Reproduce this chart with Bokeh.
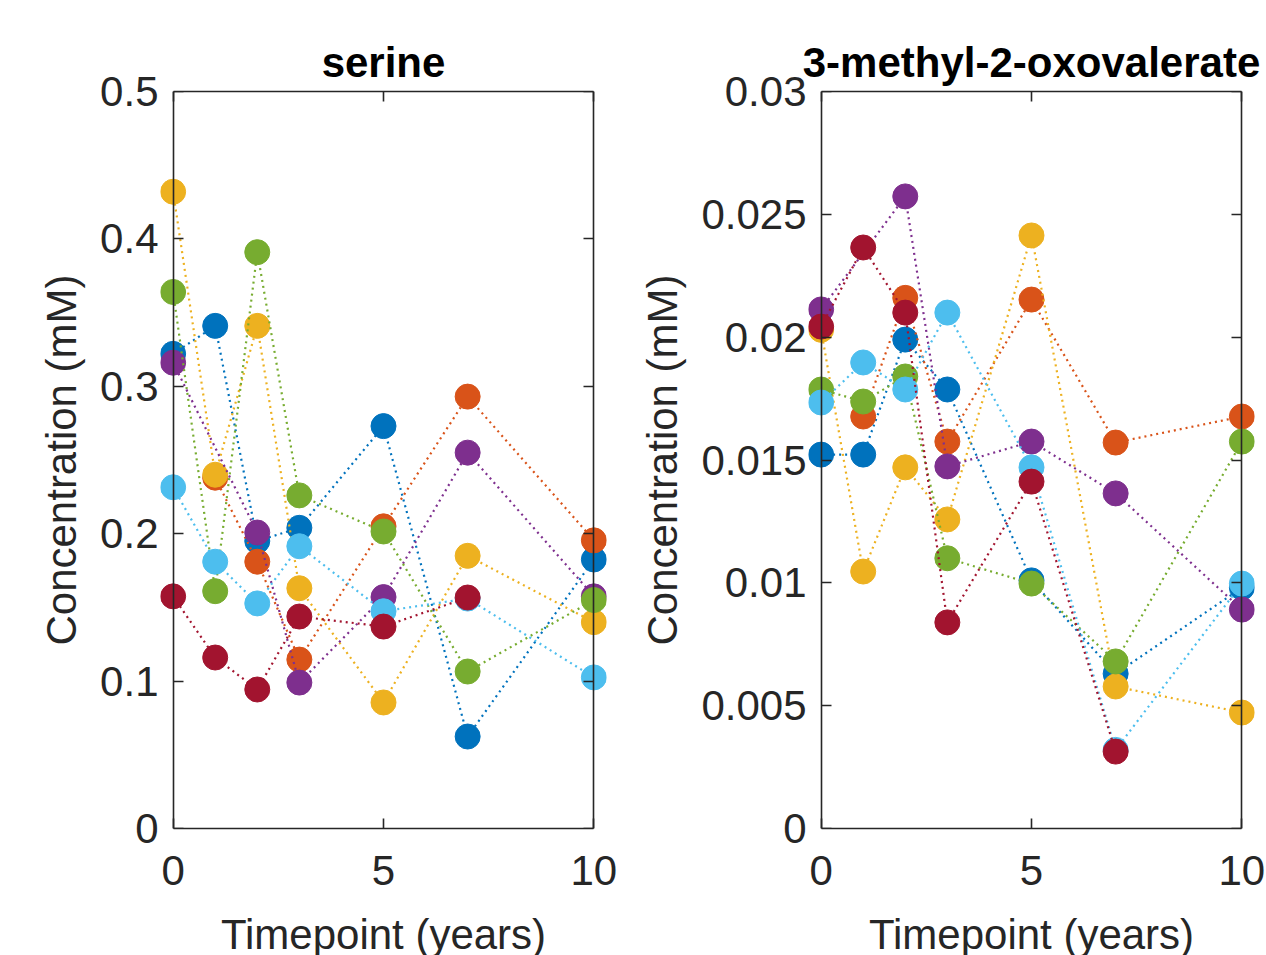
import math
from bokeh.plotting import figure
from bokeh.layouts import row
from bokeh.models import (LinearAxis, FixedTicker, CustomJSTickFormatter, Range1d,
                          GlobalInlineStyleSheet, ColumnDataSource)
from bokeh.embed import file_html
from bokeh.resources import INLINE

nan = float("nan")

# ---------------- data ----------------
timepoints = [0, 1, 2, 3, 5, 7, 10]
series_colors = ["#0072BD", "#D95319", "#EDB120", "#7E2F8E", "#77AC30", "#4DBEEE", "#A2142F"]

serine_1 = [0.322, 0.341, 0.195, 0.204, 0.273, 0.0624, 0.1825]
serine_2 = [nan, 0.238, 0.181, 0.1146, 0.205, 0.293, 0.1955]
serine_3 = [0.432, 0.240, 0.341, 0.163, 0.0855, 0.185, 0.140]
serine_4 = [0.316, nan, 0.2008, 0.099, 0.157, 0.255, 0.1575]
serine_5 = [0.364, 0.161, 0.391, 0.226, 0.2015, 0.1065, 0.155]
serine_6 = [0.2315, 0.181, 0.1527, 0.1915, 0.1474, 0.156, 0.1025]
serine_7 = [0.1575, 0.116, 0.0943, 0.1438, 0.137, 0.1567, nan]

mov_1 = [0.01522, 0.01522, 0.0199, 0.01787, 0.0101, 0.0063, 0.0098]
mov_2 = [nan, 0.01677, 0.0216, 0.01575, 0.02153, 0.01571, 0.01677]
mov_3 = [0.0203, 0.01046, 0.0147, 0.01258, 0.02414, 0.00578, 0.00472]
mov_4 = [0.02113, nan, 0.02573, 0.01474, 0.01575, 0.01364, 0.00891]
mov_5 = [0.01787, 0.01738, 0.0184, 0.0110, 0.00997, 0.0068, 0.01575]
mov_6 = [0.01734, 0.01897, 0.01787, 0.0210, 0.0147, 0.0032, 0.00997]
mov_7 = [0.02043, 0.02365, 0.0210, 0.00839, 0.01412, 0.00313, nan]

x_ticks = [0, 5, 10]
serine_ticks = [0, 0.1, 0.2, 0.3, 0.4, 0.5]
mov_ticks = [0, 0.005, 0.01, 0.015, 0.02, 0.025, 0.03]

title_serine = "serine"
title_mov = "3-methyl-2-oxovalerate"
x_label = "Timepoint (years)"
y_label = "Concentration (mM)"

# ---------------- styling ----------------
FONT = "Liberation Sans"
FS = "42px"
AX_COL = "#262626"


def base_style(ax):
    ax.axis_line_color = AX_COL
    ax.axis_line_width = 1.6
    ax.major_tick_line_color = AX_COL
    ax.major_tick_line_width = 1.6
    ax.major_tick_in = 10
    ax.major_tick_out = 0
    ax.minor_tick_line_color = None
    ax.major_label_text_font = FONT
    ax.major_label_text_font_size = FS
    ax.major_label_text_color = AX_COL
    ax.axis_label_text_font = FONT
    ax.axis_label_text_font_size = FS
    ax.axis_label_text_font_style = "normal"
    ax.axis_label_text_color = AX_COL


def blank_labels(ax):
    ax.formatter = CustomJSTickFormatter(code="return '';")
    ax.major_label_standoff = 0


def make_panel(title, data, yticks, ymax, border_left, border_right):
    p = figure(frame_width=446, frame_height=737,
               x_range=Range1d(-0.3, 10.3), y_range=Range1d(0, ymax),
               output_backend="svg", toolbar_location=None,
               x_axis_location=None, y_axis_location=None,
               min_border_left=border_left, min_border_right=border_right,
               min_border_top=91, min_border_bottom=140,
               title=title)
    p.grid.visible = False
    p.outline_line_color = None
    p.background_fill_color = "white"
    p.border_fill_color = "white"
    p.title.text_font = FONT
    p.title.text_font_size = FS
    p.title.text_font_style = "bold"
    p.title.text_color = "black"
    p.title.align = "center"
    p.title.standoff = 11

    fmt = CustomJSTickFormatter(code="return String(Number(tick.toFixed(6)));")

    # x axes (box bottom / top)
    bottom = LinearAxis(ticker=FixedTicker(ticks=x_ticks), bounds=(0, 10), axis_label=x_label)
    base_style(bottom)
    bottom.major_label_standoff = 27
    bottom.axis_label_standoff = 23
    p.add_layout(bottom, "below")

    top = LinearAxis(ticker=FixedTicker(ticks=x_ticks), bounds=(0, 10))
    base_style(top)
    blank_labels(top)
    p.add_layout(top, "above")

    # y labels at frame edge (no line / ticks)
    ylab = LinearAxis(ticker=FixedTicker(ticks=yticks), formatter=fmt, axis_label=y_label)
    base_style(ylab)
    ylab.axis_line_color = None
    ylab.major_tick_line_color = None
    ylab.major_label_standoff = 2
    ylab.axis_label_standoff = 12
    p.add_layout(ylab, "left")

    # y box line + ticks at x = 0
    yline = LinearAxis(ticker=FixedTicker(ticks=yticks), fixed_location=0)
    base_style(yline)
    blank_labels(yline)
    p.add_layout(yline, "left")

    right = LinearAxis(ticker=FixedTicker(ticks=yticks), fixed_location=10)
    base_style(right)
    blank_labels(right)
    p.add_layout(right, "right")

    for vals, col in zip(data, series_colors):
        xs = [t for t, v in zip(timepoints, vals) if not math.isnan(v)]
        ys = [v for v in vals if not math.isnan(v)]
        src = ColumnDataSource(dict(x=xs, y=ys))
        p.line("x", "y", source=src, line_color=col, line_width=2.2, line_dash="2 4")
        p.scatter("x", "y", source=src, size=25, marker="circle",
                  fill_color=col, line_color=col)
    return p


p1 = make_panel(title_serine,
                [serine_1, serine_2, serine_3, serine_4, serine_5, serine_6, serine_7],
                serine_ticks, 0.5, 160, 30)
p2 = make_panel(title_mov,
                [mov_1, mov_2, mov_3, mov_4, mov_5, mov_6, mov_7],
                mov_ticks, 0.03, 168, 12)

layout = row(p1, p2, spacing=0,
             stylesheets=[GlobalInlineStyleSheet(css="html, body { overflow: hidden; }")])

open("out.html", "w").write(file_html(layout, INLINE))
